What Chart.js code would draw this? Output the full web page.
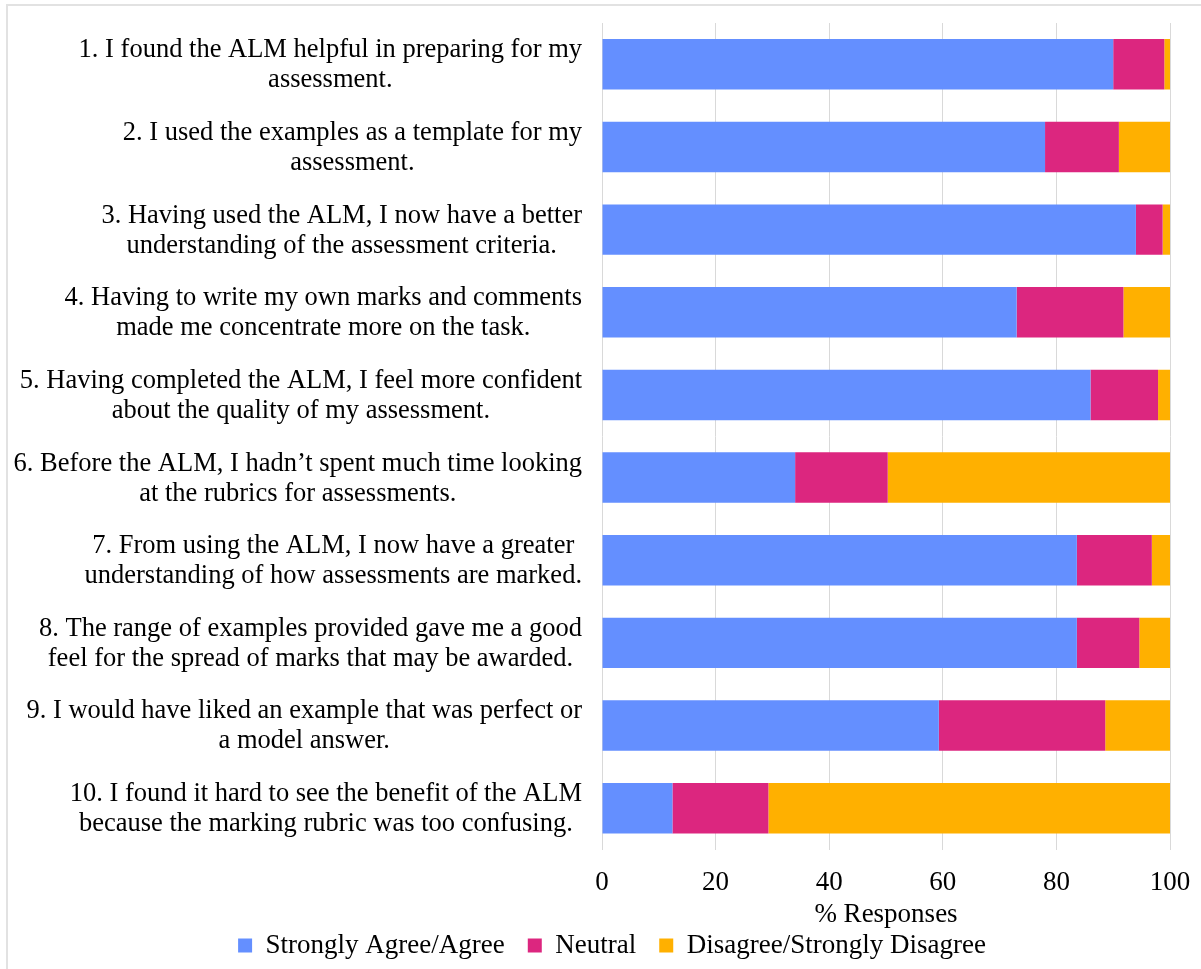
<!DOCTYPE html>
<html>
<head>
<meta charset="utf-8">
<script src="https://cdn.jsdelivr.net/npm/chart.js@4.4.1/dist/chart.umd.min.js"></script>
<style>
  html, body { margin: 0; padding: 0; background: #fff; }
  #wrap { position: relative; width: 1201px; height: 969px; overflow: hidden; }
  #frame { position: absolute; left: 6px; top: 4px; width: 1300px; height: 1100px;
           border-top: 2px solid #e2e2e2; border-left: 2px solid #e2e2e2; }
  #myChart { position: absolute; left: 0; top: 0; }
</style>
</head>
<body>
<div id="wrap">
  <div id="frame"></div>
  <canvas id="myChart" width="1201" height="969"></canvas>
</div>
<script>
// questions (two lines each), as on the survey figure
const questions = [
  ["1. I found the ALM helpful in preparing for my", "assessment."],
  ["2. I used the examples as a template for my", "assessment."],
  ["3. Having used the ALM, I now have a better", "understanding of the assessment criteria."],
  ["4. Having to write my own marks and comments", "made me concentrate more on the task."],
  ["5. Having completed the ALM, I feel more confident", "about the quality of my assessment."],
  ["6. Before the ALM, I hadn’t spent much time looking", "at the rubrics for assessments."],
  ["7. From using the ALM, I now have a greater", "understanding of how assessments are marked."],
  ["8. The range of examples provided gave me a good", "feel for the spread of marks that may be awarded."],
  ["9. I would have liked an example that was perfect or", "a model answer."],
  ["10. I found it hard to see the benefit of the ALM", "because the marking rubric was too confusing."]
];

const agree    = [90, 78, 94, 73, 86, 34, 83.6, 83.6, 59.3, 12.4];
const neutral  = [9, 13, 4.7, 18.8, 11.9, 16.3, 13.2, 11, 29.3, 16.9];
const disagree = [1, 9, 1.3, 8.2, 2.1, 49.7, 3.2, 5.4, 11.4, 70.7];

const xTicks = [0, 20, 40, 60, 80, 100];

const serif = '"Liberation Serif", "Times New Roman", serif';

// draws the question text: each label is right aligned as a block, lines centred inside it
const questionLabels = {
  id: 'questionLabels',
  afterDraw(chart) {
    const ctx = chart.ctx;
    const yScale = chart.scales.y;
    ctx.save();
    ctx.font = '26.5px ' + serif;
    ctx.fillStyle = '#000';
    ctx.textAlign = 'center';
    ctx.textBaseline = 'middle';
    questions.forEach((lines, i) => {
      const w = Math.max(...lines.map(l => ctx.measureText(l).width));
      const cx = yScale.right - 20 - w / 2;
      const cy = yScale.getPixelForValue(i) + 1;
      lines.forEach((l, j) => {
        ctx.fillText(l, cx, cy + (j - (lines.length - 1) / 2) * 30);
      });
    });
    ctx.restore();
  }
};

const ctx = document.getElementById('myChart');

new Chart(ctx, {
  type: 'bar',
  data: {
    labels: questions.map(q => q.join(' ')),
    datasets: [
      { label: 'Strongly Agree/Agree', data: agree, backgroundColor: '#648FFF' },
      { label: 'Neutral', data: neutral, backgroundColor: '#DC267F' },
      { label: 'Disagree/Strongly Disagree', data: disagree, backgroundColor: '#FFB000' }
    ]
  },
  options: {
    indexAxis: 'y',
    responsive: false,
    animation: false,
    devicePixelRatio: 1,
    barPercentage: 0.61,
    categoryPercentage: 1,
    layout: { padding: { left: 54, right: 31, top: 23, bottom: 0 } },
    scales: {
      x: {
        stacked: true,
        min: 0,
        max: 100,
        afterBuildTicks(scale) {
          scale.ticks = xTicks.map(v => ({ value: v }));
        },
        grid: { color: '#d9d9d9', lineWidth: 1, drawTicks: true, tickLength: 20, tickColor: 'rgba(0,0,0,0)' },
        border: { display: false },
        ticks: {
          padding: 0,
          color: '#000',
          font: { family: serif, size: 27, lineHeight: 1 }
        },
        title: {
          display: true,
          text: '% Responses',
          color: '#000',
          font: { family: serif, size: 27, lineHeight: 1 },
          padding: { top: 4.5, bottom: -19 }
        }
      },
      y: {
        stacked: true,
        grid: { display: false },
        border: { display: false },
        ticks: { display: false },
        afterFit(scale) {
          scale.width = 548;
        }
      }
    },
    plugins: {
      legend: {
        position: 'bottom',
        labels: {
          boxWidth: 14,
          boxHeight: 14,
          padding: 23,
          color: '#000',
          font: { family: serif, size: 27 }
        }
      },
      tooltip: { enabled: false }
    }
  },
  plugins: [questionLabels]
});
</script>
</body>
</html>
